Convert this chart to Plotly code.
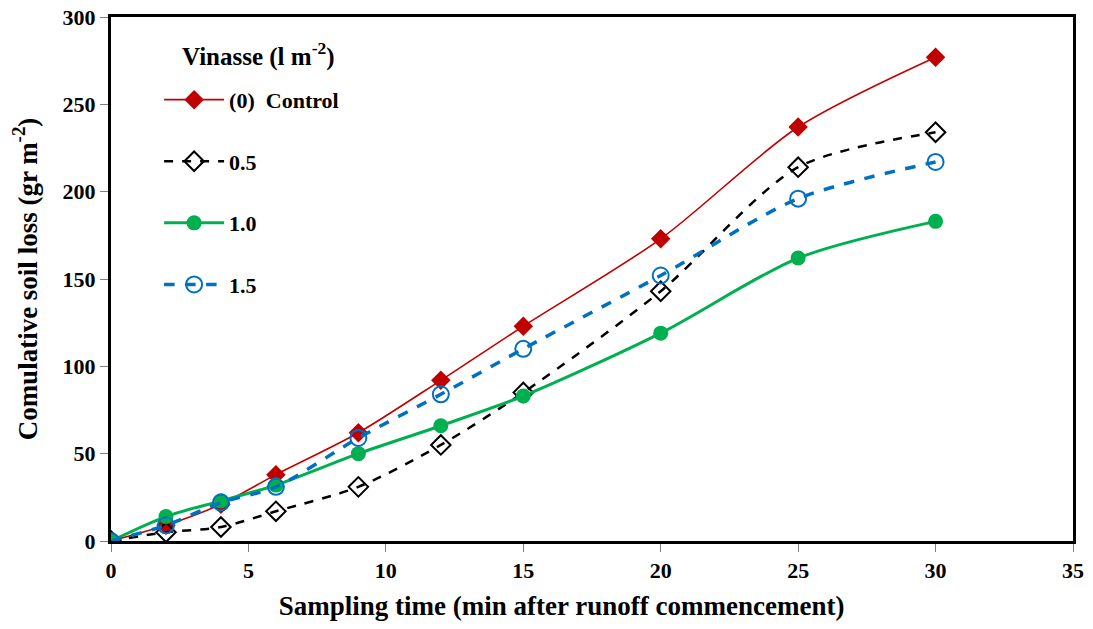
import plotly.graph_objects as go

time_min = [0, 2, 4, 6, 9, 12, 15, 20, 25, 30]
control = [0, 9, 21, 38, 62, 92, 123, 173, 237, 277]
v05 = [0, 5, 8, 17, 31, 55, 85, 143, 214, 234]
v10 = [0, 14, 23, 32, 50, 66, 83, 119, 162, 183]
v15 = [0, 9, 22, 31, 59, 84, 110, 152, 196, 217]

x_ticks = [0, 5, 10, 15, 20, 25, 30, 35]
y_ticks = [0, 50, 100, 150, 200, 250, 300]

FONT = "Liberation Serif"

fig = go.Figure()
fig.add_trace(go.Scatter(
    x=time_min, y=control, name="(0)  Control", legendgroup="a",
    mode="lines+markers", line=dict(color="#C00000", width=1.6, shape="spline", smoothing=0.8),
    marker=dict(symbol="diamond", size=15, color="#C00000")))
fig.add_trace(go.Scatter(
    x=time_min, y=v05, name="0.5", legendgroup="b",
    mode="lines+markers", line=dict(color="black", width=2.5, dash="dash", shape="spline", smoothing=0.8),
    marker=dict(symbol="diamond-open", size=15, color="black", line=dict(width=2))))
fig.add_trace(go.Scatter(
    x=time_min, y=v10, name="1.0", legendgroup="c",
    mode="lines+markers", line=dict(color="#00B050", width=3, shape="spline", smoothing=0.8),
    marker=dict(symbol="circle", size=15, color="#00B050")))
fig.add_trace(go.Scatter(
    x=time_min, y=v15, name="1.5", legendgroup="d",
    mode="lines+markers", line=dict(color="#0070C0", width=3.5, dash="dash", shape="spline", smoothing=0.8),
    marker=dict(symbol="circle-open", size=16, color="#0070C0", line=dict(width=2))))

axis_common = dict(
    showline=True, linecolor="black", linewidth=3, mirror=True,
    ticks="outside", ticklen=8, tickcolor="#808080", tickwidth=1,
    showgrid=False, zeroline=False, automargin=False,
    tickfont=dict(family=FONT, size=22, color="black", weight="bold"),
)

fig.update_layout(
    width=1093, height=629,
    margin=dict(l=111, r=20, t=17, b=88),
    paper_bgcolor="white", plot_bgcolor="white",
    font=dict(family=FONT, color="black"),
    xaxis=dict(range=[0, 35], tickvals=x_ticks, **axis_common,
               title=dict(text="<b>Sampling time (min after runoff commencement)</b>" + "&nbsp;" * 9,
                          font=dict(family=FONT, size=27, color="black"), standoff=14)),
    yaxis=dict(range=[0, 300], tickvals=y_ticks, **axis_common,
               title=dict(text="<b>Comulative soil loss (gr m<sup>-2</sup>)</b>",
                          font=dict(family=FONT, size=27, color="black"), standoff=18)),
    legend=dict(
        x=0.05, y=0.882, xanchor="left", yanchor="top",
        bgcolor="rgba(0,0,0,0)", borderwidth=0,
        font=dict(family=FONT, size=22, color="black", weight="bold"),
        tracegroupgap=30, itemwidth=60, traceorder="grouped",
    ),
    showlegend=True,
    annotations=[dict(
        text="<b>Vinasse (l m<sup>-2</sup>)</b>", xref="paper", yref="paper",
        x=(180 - 111) / 962, y=(541 - 55) / 524, xanchor="left", yanchor="middle",
        showarrow=False, font=dict(family=FONT, size=25, color="black"))],
)

fig.write_html("out.html")
